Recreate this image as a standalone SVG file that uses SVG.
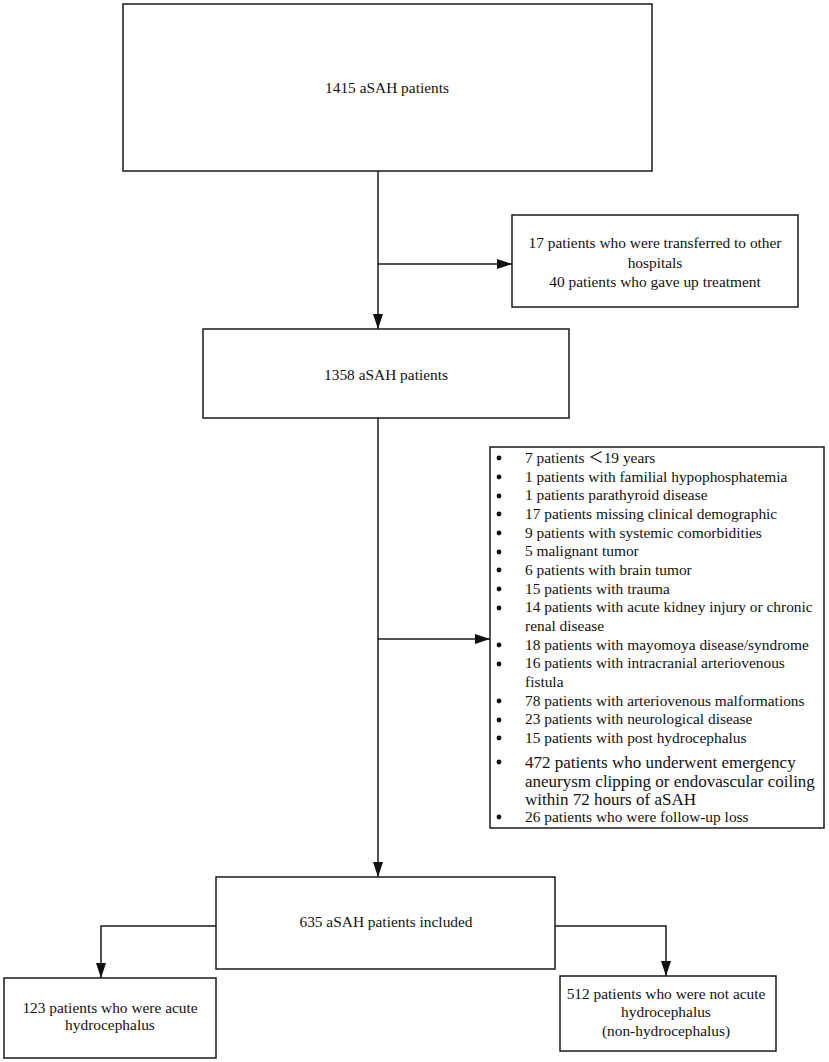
<svg xmlns="http://www.w3.org/2000/svg" width="829" height="1062" viewBox="0 0 829 1062" font-family="'Liberation Serif', 'Times New Roman', 'Noto Sans CJK SC', serif">
<style>
.box{fill:#fff;stroke:#1a1a1a;stroke-width:1.5}
.ln{fill:none;stroke:#1a1a1a;stroke-width:1.5}
text{font-family:"Liberation Serif","Times New Roman","Noto Sans CJK SC",serif;font-size:15.4px;fill:#111}
.c{text-anchor:middle}
.big{font-size:17px}
.dot{fill:#111}
</style>
<defs>
<marker id="ah" markerUnits="userSpaceOnUse" markerWidth="16" markerHeight="12" viewBox="0 0 16 12" refX="15" refY="6" orient="auto">
<path d="M0,1 L15,6 L0,11 Z" fill="#111"/>
</marker>
</defs>
<rect width="829" height="1062" fill="#fff"/>
<g id="connectors">
<line class="ln" x1="378" y1="171" x2="378" y2="329" marker-end="url(#ah)"/>
<line class="ln" x1="378" y1="264" x2="512" y2="264" marker-end="url(#ah)"/>
<line class="ln" x1="378" y1="418" x2="378" y2="877" marker-end="url(#ah)"/>
<line class="ln" x1="378" y1="639" x2="490" y2="639" marker-end="url(#ah)"/>
<polyline class="ln" points="216,926 101,926 101,978" marker-end="url(#ah)"/>
<polyline class="ln" points="555,926 666,926 666,976" marker-end="url(#ah)"/>
</g>
<g id="n1415">
<rect class="box" x="123" y="4" width="529" height="167"/>
<text class="c" x="387" y="93">1415 aSAH patients</text>
</g>
<g id="excl1">
<rect class="box" x="512" y="215" width="286" height="92"/>
<text class="c" x="655" y="248">17 patients who were transferred to other</text>
<text class="c" x="655" y="268">hospitals</text>
<text class="c" x="655" y="287">40 patients who gave up treatment</text>
</g>
<g id="n1358">
<rect class="box" x="203" y="329" width="366" height="89"/>
<text class="c" x="386" y="380">1358 aSAH patients</text>
</g>
<g id="excl2">
<rect class="box" x="490" y="447" width="334" height="381"/>
<circle class="dot" cx="499" cy="458" r="2.4"/>
<text x="525" y="463">7 patients ＜19 years</text>
<circle class="dot" cx="499" cy="477" r="2.4"/>
<text x="525" y="482">1 patients with familial hypophosphatemia</text>
<circle class="dot" cx="499" cy="496" r="2.4"/>
<text x="525" y="500">1 patients parathyroid disease</text>
<circle class="dot" cx="499" cy="514" r="2.4"/>
<text x="525" y="519">17 patients missing clinical demographic</text>
<circle class="dot" cx="499" cy="533" r="2.4"/>
<text x="525" y="538">9 patients with systemic comorbidities</text>
<circle class="dot" cx="499" cy="552" r="2.4"/>
<text x="525" y="556">5 malignant tumor</text>
<circle class="dot" cx="499" cy="570" r="2.4"/>
<text x="525" y="575">6 patients with brain tumor</text>
<circle class="dot" cx="499" cy="589" r="2.4"/>
<text x="525" y="594">15 patients with trauma</text>
<circle class="dot" cx="499" cy="608" r="2.4"/>
<text x="525" y="612">14 patients with acute kidney injury or chronic</text>
<text x="525" y="631">renal disease</text>
<circle class="dot" cx="499" cy="645" r="2.4"/>
<text x="525" y="650">18 patients with mayomoya disease/syndrome</text>
<circle class="dot" cx="499" cy="664" r="2.4"/>
<text x="525" y="668">16 patients with intracranial arteriovenous</text>
<text x="525" y="687">fistula</text>
<circle class="dot" cx="499" cy="701" r="2.4"/>
<text x="525" y="706">78 patients with arteriovenous malformations</text>
<circle class="dot" cx="499" cy="720" r="2.4"/>
<text x="525" y="724">23 patients with neurological disease</text>
<circle class="dot" cx="499" cy="738" r="2.4"/>
<text x="525" y="743">15 patients with post hydrocephalus</text>
<circle class="dot" cx="499" cy="762" r="2.4"/>
<text class="big" x="525" y="768">472 patients who underwent emergency</text>
<text class="big" x="525" y="787">aneurysm clipping or endovascular coiling</text>
<text class="big" x="525" y="805">within 72 hours of aSAH</text>
<circle class="dot" cx="499" cy="817" r="2.4"/>
<text x="525" y="822">26 patients who were follow-up loss</text>
</g>
<g id="n635">
<rect class="box" x="216" y="877" width="339" height="92"/>
<text class="c" x="386" y="927">635 aSAH patients included</text>
</g>
<g id="hydro">
<rect class="box" x="4" y="978" width="212" height="80"/>
<text class="c" x="110" y="1013">123 patients who were acute</text>
<text class="c" x="110" y="1030">hydrocephalus</text>
</g>
<g id="nonhydro">
<rect class="box" x="560" y="976" width="216" height="75"/>
<text class="c" x="666" y="999">512 patients who were not acute</text>
<text class="c" x="666" y="1017">hydrocephalus</text>
<text class="c" x="666" y="1036">(non-hydrocephalus)</text>
</g>
</svg>
